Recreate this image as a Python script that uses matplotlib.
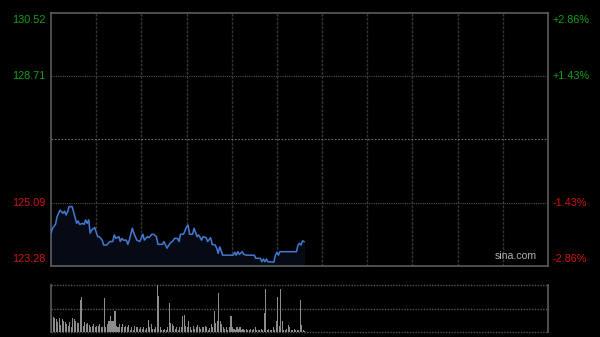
import matplotlib
matplotlib.use('Agg')
import matplotlib.pyplot as plt
import numpy as np

# intraday price samples (minute from open, price)
minutes = [0, 1, 3, 4, 6, 8, 9, 10, 11, 12, 14, 15, 17, 18, 19, 21, 22, 23, 24, 25,
           26, 27, 29, 31, 32, 34, 35, 37, 39, 41, 42, 43, 45, 46, 47, 48, 50, 51, 52, 54,
           55, 57, 59, 61, 62, 64, 65, 67, 68, 70, 71, 74, 75, 77, 79, 81, 82, 84, 85, 86,
           88, 90, 91, 92, 94, 95, 97, 98, 100, 101, 103, 104, 106, 107, 109, 110, 111, 112, 114, 115,
           121, 122, 123, 124, 125, 127, 128, 130, 135, 136, 139, 140, 141, 142, 143, 144, 145, 148, 149, 150,
           151, 152, 153, 163, 164, 165, 166, 167, 168]
prices = [124.22, 124.36, 124.47, 124.69, 124.88, 124.79, 124.85, 124.74, 124.83, 124.98,
          124.98, 124.83, 124.50, 124.57, 124.47, 124.50, 124.47, 124.60, 124.50, 124.60,
          124.22, 124.31, 124.38, 124.12, 124.12, 124.02, 123.88, 123.88, 123.98, 123.98,
          124.17, 124.07, 124.12, 123.98, 124.07, 124.02, 124.02, 123.90, 124.02, 124.36,
          124.22, 124.02, 123.98, 124.19, 124.02, 124.12, 124.09, 124.19, 124.19, 124.12,
          123.90, 123.90, 123.98, 123.79, 123.93, 124.00, 124.07, 124.07, 123.98, 124.19,
          124.19, 124.40, 124.45, 124.19, 124.19, 124.36, 124.12, 124.17, 124.02, 124.12,
          124.09, 123.98, 124.09, 123.90, 123.88, 123.79, 123.64, 123.83, 123.59, 123.59,
          123.59, 123.67, 123.59, 123.69, 123.61, 123.69, 123.61, 123.59, 123.59, 123.50,
          123.50, 123.40, 123.48, 123.40, 123.48, 123.40, 123.40, 123.39, 123.59, 123.67,
          123.59, 123.69, 123.69, 123.69, 123.88, 123.93, 123.88, 124.00, 123.98]

# per-minute volume (relative units)
volumes = [14, 15, 14, 13, 10, 14, 7, 13, 11, 10, 8, 6, 10, 5, 14, 13, 11, 9, 9, 32,
           35, 6, 10, 8, 9, 7, 5, 6, 8, 5, 6, 6, 8, 5, 5, 34, 5, 8, 11, 16,
           11, 11, 21, 6, 5, 8, 5, 8, 5, 6, 5, 7, 2, 5, 2, 6, 5, 5, 3, 5,
           3, 5, 2, 4, 12, 5, 8, 3, 3, 5, 47, 36, 5, 2, 2, 3, 2, 5, 29, 9,
           8, 6, 3, 5, 2, 5, 5, 16, 17, 6, 5, 11, 5, 2, 6, 3, 5, 7, 5, 3,
           5, 5, 6, 5, 2, 4, 8, 5, 21, 9, 11, 39, 11, 8, 5, 3, 5, 2, 5, 16,
           5, 3, 2, 5, 3, 5, 2, 3, 2, 3, 2, 2, 3, 2, 3, 5, 2, 2, 2, 3,
           2, 19, 43, 2, 3, 2, 2, 5, 2, 11, 35, 6, 43, 11, 2, 2, 3, 7, 5, 2,
           2, 3, 2, 2, 2, 32, 7, 2, 1]

prev_close = 126.90
y_lo, y_hi = 123.28, 130.52
left_ticks = [130.52, 128.71, 125.09, 123.28]
right_labels = ['+2.86%', '+1.43%', '-1.43%', '-2.86%']
total_minutes = 330

GREEN = '#12a012'
RED = '#d01515'
FRAME = '#5c5c5c'
GRID = '#363636'

plt.rcParams['font.family'] = ['Liberation Sans', 'DejaVu Sans']

fig = plt.figure(figsize=(6, 3.37), dpi=100, facecolor='black')
ax = fig.add_axes([51 / 600, 1 - 266 / 337, 497 / 600, 253 / 337])
vax = fig.add_axes([51 / 600, 1 - 332 / 337, 497 / 600, 47 / 337])

# price panel
ax.set_facecolor('black')
ax.set_xlim(0, total_minutes)
ax.set_ylim(y_lo, y_hi)
for x in range(30, total_minutes, 30):
    ax.axvline(x, color=GRID, lw=1, ls=(0, (2, 1)), zorder=1)
ax.axhline(left_ticks[1], color='#505050', lw=0.8, ls=(0, (1, 1)), zorder=1)
ax.axhline(left_ticks[2], color='#505050', lw=0.8, ls=(0, (1, 1)), zorder=1)
ax.axhline(prev_close, color='#707070', lw=0.8, ls=(0, (1.5, 1.5)), zorder=1)

ax.fill_between(minutes, prices, y_lo, color='#060a14', zorder=2)
ax.plot(minutes, prices, color='#4379d0', lw=1.1, zorder=3)

for s in ax.spines.values():
    s.set_color(FRAME)
    s.set_linewidth(1.2)
ax.set_xticks([])
ax.set_yticks([])

# axis labels, coloured by side of previous close
label_pos = [130.52 - 0.2, 128.71, 125.09, 123.28 + 0.2]
for val, pos, pct in zip(left_ticks, label_pos, right_labels):
    c = GREEN if val > prev_close else RED
    ax.text(-0.012, pos, f'{val:.2f}', transform=ax.get_yaxis_transform(),
            ha='right', va='center', color=c, fontsize=7.8)
    ax.text(1.01, pos, pct, transform=ax.get_yaxis_transform(),
            ha='left', va='center', color=c, fontsize=7.8)

ax.text(0.978, 0.018, 'sina.com', transform=ax.transAxes, ha='right', va='bottom',
        color='#b0b0b0', fontsize=7.6)

# volume panel
vax.set_facecolor('black')
vax.set_xlim(0, total_minutes)
vax.set_ylim(0, max(volumes))
vax.bar(np.arange(len(volumes)) + 0.5, volumes, width=0.7, color='#8c8c8c', zorder=2)
for yv in [0, max(volumes) / 2, max(volumes)]:
    vax.axhline(yv, color='#555555', lw=1, ls=(0, (1, 1)), zorder=1, clip_on=False)
for side in ['top', 'bottom']:
    vax.spines[side].set_visible(False)
for side in ['left', 'right']:
    vax.spines[side].set_color(FRAME)
    vax.spines[side].set_linewidth(1.2)
vax.set_xticks([])
vax.set_yticks([])

fig.savefig('out.png', dpi=100, facecolor='black')
